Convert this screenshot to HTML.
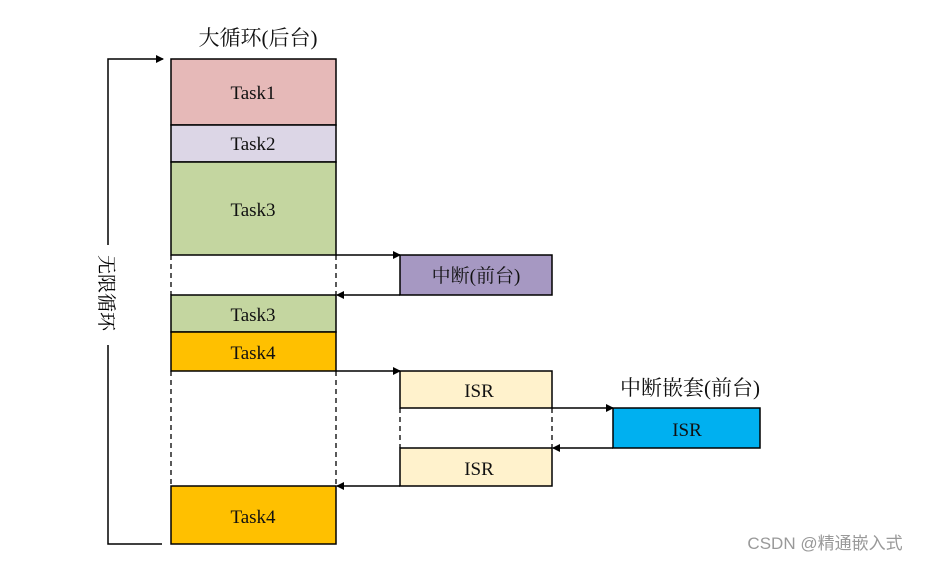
<!DOCTYPE html>
<html><head><meta charset="utf-8"><style>
body{margin:0;background:#fff;}
svg text{font-family:"Liberation Serif","Noto Serif CJK SC",serif;}
</style></head><body>
<svg width="926" height="562" viewBox="0 0 926 562" xmlns="http://www.w3.org/2000/svg">
<defs><marker id="a" markerWidth="8" markerHeight="8" refX="7" refY="4" orient="auto" markerUnits="userSpaceOnUse"><path d="M0,0 L8,4 L0,8z" fill="#000"/></marker></defs>
<g stroke="#000" stroke-width="1.5">
<rect x="171" y="59" width="165" height="66" fill="#e6b9b8"/>
<rect x="171" y="125" width="165" height="37" fill="#dcd6e6"/>
<rect x="171" y="162" width="165" height="93" fill="#c4d6a0"/>
<rect x="171" y="295" width="165" height="37" fill="#c4d6a0"/>
<rect x="171" y="332" width="165" height="39" fill="#ffc000"/>
<rect x="171" y="486" width="165" height="58" fill="#ffc000"/>
<rect x="400" y="255" width="152" height="40" fill="#a698c2"/>
<rect x="400" y="371" width="152" height="37" fill="#fff2cc"/>
<rect x="400" y="448" width="152" height="38" fill="#fff2cc"/>
<rect x="613" y="408" width="147" height="40" fill="#00b0f0"/>
</g>
<g stroke="#000" stroke-width="1.3" stroke-dasharray="5,4" fill="none">
<line x1="171" y1="255" x2="171" y2="295"/><line x1="336" y1="255" x2="336" y2="295"/>
<line x1="171" y1="371" x2="171" y2="486"/><line x1="336" y1="371" x2="336" y2="486"/>
<line x1="400" y1="408" x2="400" y2="448"/><line x1="552" y1="408" x2="552" y2="448"/>
</g>
<g stroke="#000" stroke-width="1.5" fill="none">
<line x1="336" y1="255" x2="400" y2="255" marker-end="url(#a)"/>
<line x1="400" y1="295" x2="337" y2="295" marker-end="url(#a)"/>
<line x1="336" y1="371" x2="400" y2="371" marker-end="url(#a)"/>
<line x1="552" y1="408" x2="613" y2="408" marker-end="url(#a)"/>
<line x1="613" y1="448" x2="553" y2="448" marker-end="url(#a)"/>
<line x1="400" y1="486" x2="337" y2="486" marker-end="url(#a)"/>
<polyline points="162,544 108,544 108,59 163,59" marker-end="url(#a)"/>
</g>
<rect x="98" y="245" width="20" height="100" fill="#fff"/>
<text transform="translate(100,255) rotate(90)" font-size="19">无限循环</text>
<g font-size="19" text-anchor="middle" fill="#111">
<text x="253" y="99">Task1</text>
<text x="253" y="150">Task2</text>
<text x="253" y="216">Task3</text>
<text x="253" y="321">Task3</text>
<text x="253" y="359">Task4</text>
<text x="253" y="523">Task4</text>
<text x="476" y="282">中断(前台)</text>
<text x="479" y="397">ISR</text>
<text x="479" y="475">ISR</text>
<text x="687" y="436">ISR</text>
<text x="258" y="45" font-size="21">大循环(后台)</text>
<text x="690" y="395" font-size="21">中断嵌套(前台)</text>
</g>
<text x="825" y="549" font-size="17" text-anchor="middle" fill="#999" style="font-family:'Liberation Sans','Noto Sans CJK SC',sans-serif">CSDN @精通嵌入式</text>
</svg>
</body></html>
